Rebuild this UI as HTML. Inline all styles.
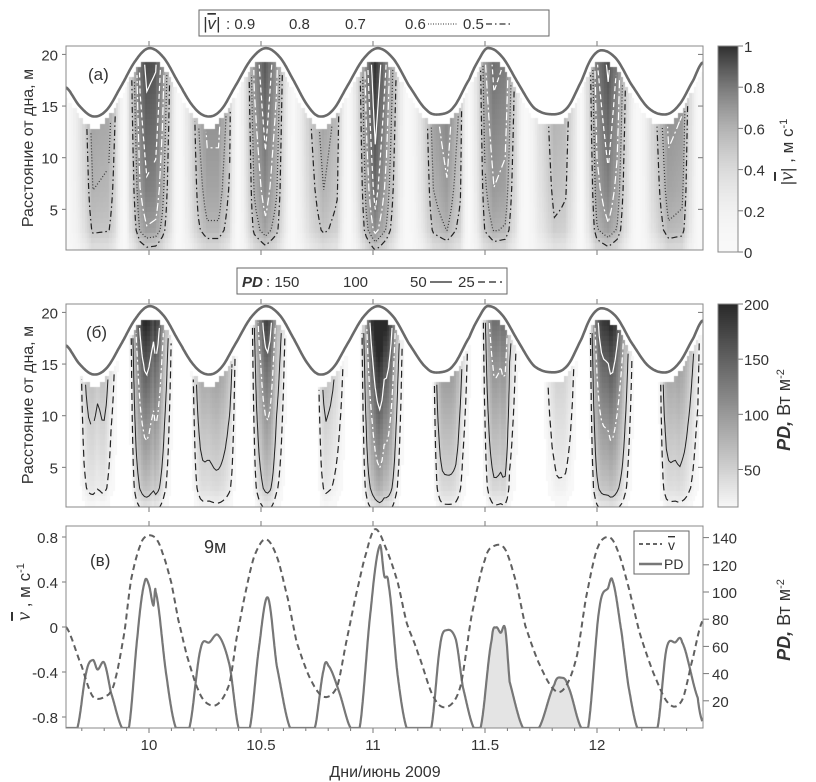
<!DOCTYPE html>
<html><head><meta charset="utf-8"><style>
html,body{margin:0;padding:0;background:#fff;}
#wrap{position:relative;width:816px;height:782px;overflow:hidden;font-family:"Liberation Sans Narrow","Liberation Sans",sans-serif;}
canvas{position:absolute;}
svg{position:absolute;left:0;top:0;}
text{font-family:"Liberation Sans Narrow","Liberation Sans",sans-serif;fill:#333;}
</style></head><body>
<div id="wrap">
<canvas id="cva" width="637" height="204" style="left:66px;top:46px"></canvas>
<canvas id="cvb" width="637" height="203" style="left:66px;top:304px"></canvas>
<canvas id="cba" width="20" height="206" style="left:718px;top:46px"></canvas>
<canvas id="cbb" width="20" height="203" style="left:718px;top:304px"></canvas>
<svg id="svg" width="816" height="782" xmlns="http://www.w3.org/2000/svg">
<defs>
<clipPath id="clipA"><rect x="66" y="46" width="637" height="204"/></clipPath>
<clipPath id="clipB"><rect x="66" y="304" width="637" height="203"/></clipPath>
<clipPath id="clipC"><rect x="66" y="526" width="637" height="202"/></clipPath>
</defs>
<g id="gA" clip-path="url(#clipA)"></g>
<g id="gB" clip-path="url(#clipB)"></g>
<g id="gC" clip-path="url(#clipC)"></g>
<g id="axes"></g>
<rect x="66" y="46" width="637" height="204" fill="none" stroke="#888"/>
<rect x="66" y="304" width="637" height="203" fill="none" stroke="#888"/>
<rect x="66" y="526" width="637" height="202" fill="none" stroke="#888"/>
<rect x="718" y="46" width="20" height="206" fill="none" stroke="#888"/>
<rect x="718" y="304" width="20" height="203" fill="none" stroke="#888"/>
<text x="88" y="80" font-size="17">(a)</text>
<text x="86" y="338" font-size="17">(б)</text>
<text x="90" y="566" font-size="17">(в)</text>
<text x="204" y="553" font-size="18">9м</text>
<text transform="translate(33,148) rotate(-90)" text-anchor="middle" font-size="16" font-family="Liberation Sans">Расстояние от дна, м</text>
<text transform="translate(33,405) rotate(-90)" text-anchor="middle" font-size="16" font-family="Liberation Sans">Расстояние от дна, м</text>
<text transform="translate(30,592) rotate(-90)" text-anchor="middle" font-size="17" font-family="Liberation Sans"><tspan font-style="italic" font-family="Liberation Serif" text-decoration="overline" font-size="20">v</tspan> , м с<tspan dy="-6" font-size="11">-1</tspan></text>
<text transform="translate(793,152) rotate(-90)" text-anchor="middle" font-size="17" font-family="Liberation Sans">|<tspan font-style="italic" font-family="Liberation Serif" text-decoration="overline" font-size="20">v</tspan>| , м с<tspan dy="-6" font-size="11">-1</tspan></text>
<text transform="translate(790,410) rotate(-90)" text-anchor="middle" font-size="18" font-family="Liberation Sans"><tspan font-weight="bold" font-style="italic">PD,</tspan> Вт м<tspan dy="-6" font-size="11">-2</tspan></text>
<text transform="translate(790,620) rotate(-90)" text-anchor="middle" font-size="18" font-family="Liberation Sans"><tspan font-weight="bold" font-style="italic">PD,</tspan> Вт м<tspan dy="-6" font-size="11">-2</tspan></text>
<text x="385" y="777" text-anchor="middle" font-size="16">Дни/июнь 2009</text>
<g>
<rect x="199" y="10" width="350" height="26" fill="#fff" stroke="#666"/>
<text x="203" y="29" font-size="17" font-family="Liberation Serif" font-style="italic">|<tspan text-decoration="overline">v</tspan>|</text>
<text x="226" y="29" font-size="15">: 0.9</text>
<line x1="256" y1="24" x2="282" y2="24" stroke="#fff" stroke-width="1.5"/>
<text x="289" y="29" font-size="15">0.8</text>
<text x="345" y="29" font-size="15">0.7</text>
<text x="405" y="29" font-size="15">0.6</text>
<line x1="428" y1="24" x2="458" y2="24" stroke="#333" stroke-dasharray="1,1.5"/>
<text x="463" y="29" font-size="15">0.5</text>
<line x1="486" y1="24" x2="512" y2="24" stroke="#333" stroke-width="1.3" stroke-dasharray="6,3,1.5,3"/>
</g>
<g>
<rect x="237" y="268" width="270" height="26" fill="#fff" stroke="#666"/>
<text x="242" y="287" font-size="15" font-weight="bold" font-style="italic" font-family="Liberation Sans">PD</text>
<text x="266" y="287" font-size="15">: 150</text>
<text x="343" y="287" font-size="15">100</text>
<text x="410" y="287" font-size="15">50</text>
<line x1="430" y1="282" x2="452" y2="282" stroke="#222" stroke-width="1.2"/>
<text x="458" y="287" font-size="15">25</text>
<line x1="478" y1="282" x2="502" y2="282" stroke="#222" stroke-width="1.2" stroke-dasharray="7,4"/>
</g>
<g>
<rect x="634" y="531" width="55" height="43" fill="#fff" stroke="#666"/>
<line x1="639" y1="544" x2="662" y2="544" stroke="#666" stroke-width="2" stroke-dasharray="4,3"/>
<text x="668" y="550" font-size="14" font-family="Liberation Sans" text-decoration="overline">v</text>
<line x1="639" y1="564" x2="662" y2="564" stroke="#777" stroke-width="2.5"/>
<text x="664" y="569" font-size="14">PD</text>
</g>
</svg>
</div>
<script>
// ---- data ----
const surfDays = [9.63,9.69,9.75,9.81,9.875,9.94,10.0,10.065,10.13,10.20,10.26,10.32,10.39,10.455,10.52,10.585,10.65,10.71,10.76,10.82,10.89,10.955,11.02,11.09,11.16,11.24,11.30,11.36,11.43,11.47,11.51,11.575,11.645,11.72,11.81,11.87,11.93,11.975,12.02,12.085,12.15,12.23,12.31,12.37,12.43,12.47];
const surfH = [16.8,15.0,14.0,14.6,16.9,19.4,20.6,19.7,17.3,14.9,14.0,14.6,17.1,19.5,20.6,19.7,17.3,15.0,14.0,14.6,17.1,19.5,20.6,19.6,17.0,14.6,14.2,14.9,17.6,19.4,20.6,19.8,17.3,14.8,14.2,14.9,17.4,19.6,20.4,19.6,17.2,14.8,14.2,15.2,17.5,19.2];
const vDays = [9.63,9.70,9.75,9.82,9.85,9.89,9.92,9.96,9.99,10.03,10.06,10.10,10.13,10.17,10.22,10.26,10.31,10.36,10.39,10.43,10.47,10.52,10.57,10.62,10.66,10.72,10.78,10.84,10.88,10.92,10.97,11.01,11.06,11.11,11.15,11.20,11.27,11.33,11.39,11.44,11.50,11.54,11.59,11.64,11.68,11.74,11.81,11.86,11.91,11.95,12.0,12.05,12.09,12.14,12.19,12.25,12.32,12.38,12.43,12.47];
const vVals = [0,-0.35,-0.62,-0.6,-0.46,-0.05,0.42,0.72,0.81,0.79,0.66,0.39,0.07,-0.26,-0.56,-0.68,-0.68,-0.5,-0.11,0.3,0.63,0.78,0.63,0.25,-0.14,-0.46,-0.62,-0.53,-0.14,0.25,0.66,0.87,0.69,0.4,0.04,-0.23,-0.62,-0.71,-0.53,0.1,0.6,0.72,0.69,0.39,0.01,-0.32,-0.56,-0.53,-0.26,0.25,0.69,0.8,0.69,0.36,-0.05,-0.4,-0.68,-0.65,-0.26,0.05];
const pdDays = [9.63,9.68,9.72,9.75,9.77,9.80,9.83,9.88,9.91,9.95,9.98,10.0,10.02,10.03,10.08,10.12,10.18,10.23,10.27,10.31,10.36,10.40,10.45,10.49,10.53,10.57,10.63,10.74,10.78,10.80,10.85,10.90,10.94,10.99,11.03,11.05,11.07,11.11,11.15,11.26,11.30,11.33,11.37,11.40,11.45,11.48,11.53,11.55,11.57,11.59,11.61,11.67,11.74,11.81,11.84,11.87,11.93,11.96,12.01,12.05,12.07,12.11,12.14,12.18,12.27,12.31,12.35,12.38,12.45,12.47];
const pdVals = [0,0,41,50,43,48,26,0,0,70,107,105,90,100,36,0,0,58,63,68,46,0,0,58,96,46,0,0,43,46,26,0,0,87,134,112,105,39,0,0,61,72,65,31,0,0,65,74,70,73,34,0,0,32,37,31,0,0,87,103,108,70,31,0,0,58,63,63,22,5];
const profZ = [0.5,3,5,7,9,11,13,15,17,19,21];
const velProf = [0.5,0.85,0.92,0.97,1.0,1.03,1.06,1.09,1.12,1.15,1.17];
const pdProf = [0.2,0.6,0.75,0.88,1.0,1.15,1.3,1.45,1.65,1.85,1.95];
const shadedRanges = [[11.46,11.68],[11.74,11.93]];
const xTicks = [10,10.5,11,11.5,12];
const xTickLabels = ["10","10.5","11","11.5","12"];
const zTicks = [5,10,15,20];
const vTicks = [-0.8,-0.4,0,0.4,0.8];
const vTickLabels = ["-0.8","-0.4","0","0.4","0.8"];
const pdTicks = [20,40,60,80,100,120,140];
const cbaTicks = [0,0.2,0.4,0.6,0.8,1];
const cbaLabels = ["0","0.2","0.4","0.6","0.8","1"];
const cbbTicks = [50,100,150,200];
const levelsA = [0.9,0.8,0.7,0.6,0.5];
const levelsB = [150,100,50,25];

// ---- scales ----
const X = d => 149 + (d-10)*224;
const ZA = z => 261 - z*10.33;
const ZB = z => 519 - z*10.33;
const YV = v => 627 - v*112.5;
const YP = p => 728 - p*1.36;
const NS = 'http://www.w3.org/2000/svg';
function interp(xs, ys, x){
  const n=Math.min(xs.length,ys.length);
  if (x<=xs[0]) return ys[0];
  if (x>=xs[n-1]) return ys[n-1];
  for(let i=0;i<n-1;i++){ if(x<=xs[i+1]){const f=(x-xs[i])/(xs[i+1]-xs[i]); return ys[i]+f*(ys[i+1]-ys[i]);} }
  return ys[n-1];
}
function catmull(xs, ys, t){
  const n=Math.min(xs.length,ys.length);
  if(t<=xs[0]) return ys[0]; if(t>=xs[n-1]) return ys[n-1];
  let i=0; while(i<n-2 && t>xs[i+1]) i++;
  const p0=ys[Math.max(i-1,0)],p1=ys[i],p2=ys[i+1],p3=ys[Math.min(i+2,n-1)];
  const u=Math.max(0,Math.min(1,(t-xs[i])/(xs[i+1]-xs[i])));
  return 0.5*((2*p1)+(-p0+p2)*u+(2*p0-5*p1+4*p2-p3)*u*u+(-p0+3*p1-3*p2+p3)*u*u*u);
}
const smoothSurf = t => catmull(surfDays, surfH, t);
function el(tag, attrs, parent){const e=document.createElementNS(NS,tag); for(const k in attrs) e.setAttribute(k,attrs[k]); parent.appendChild(e); return e;}

// ---- grids ----
const t0=9.60, dt=0.01, nT=291, z0=1.0, dz=0.5, nZ=40;
const gridT=[], gridZ=[];
for(let i=0;i<nT;i++) gridT.push(t0+i*dt);
for(let j=0;j<nZ;j++) gridZ.push(z0+j*dz);
const GA=[], GB=[];
for(let i=0;i<nT;i++){
  const t=gridT[i], top=Math.min(19.0, Math.floor((smoothSurf(t)-1.1)*2)/2);
  const av=Math.abs(interp(vDays,vVals,t)), pd=Math.max(0,catmull(pdDays,pdVals,t));
  const ca=[], cb=[];
  for(let j=0;j<nZ;j++){
    const z=gridZ[j];
    if(z>top){ca.push(NaN);cb.push(NaN);continue;}
    ca.push(av*interp(profZ,velProf,z));
    cb.push(pd*interp(profZ,pdProf,z));
  }
  GA.push(ca); GB.push(cb);
}
function grayA(v){const f=Math.max(0,Math.min(1,v)); const L=Math.round(248-200*Math.pow(f,2.1)); return `rgb(${L},${L},${L})`;}
function grayB(p){const f=Math.max(0,Math.min(1,(p-16)/184)); const L=Math.round(248-206*f); return `rgb(${L},${L},${L})`;}
function paint(cv, G, colorFn, ZF, top, minVal){
  const ctx=cv.getContext('2d');
  ctx.fillStyle='#fff'; ctx.fillRect(0,0,cv.width,cv.height);
  for(let i=0;i<nT;i++) for(let j=0;j<nZ;j++){
    const v=G[i][j]; if(isNaN(v)||v<minVal) continue;
    const x1=Math.floor(X(gridT[i]-dt/2))-66, x2=Math.ceil(X(gridT[i]+dt/2))-66;
    const y1=Math.floor(ZF(gridZ[j]+dz/2))-top, y2=Math.ceil(ZF(gridZ[j]-dz/2))-top;
    ctx.fillStyle=colorFn(v); ctx.fillRect(x1,y1,x2-x1,y2-y1);
  }
}
paint(document.getElementById('cva'),GA,grayA,ZA,46,-1);
paint(document.getElementById('cvb'),GB,grayB,ZB,304,12);
(function(){
  const a=document.getElementById('cba').getContext('2d');
  for(let y=0;y<206;y++){a.fillStyle=grayA(1-y/206);a.fillRect(0,y,20,1);}
  const b=document.getElementById('cbb').getContext('2d');
  for(let y=0;y<203;y++){b.fillStyle=grayB(200-y*184/203);b.fillRect(0,y,20,1);}
})();

// ---- contours (marching squares) ----
function contour(G, level){
  const segs=[];
  const pt=(i1,j1,i2,j2)=>{const a=G[i1][j1],b=G[i2][j2]; const f=(level-a)/(b-a); return [gridT[i1]+f*(gridT[i2]-gridT[i1]), gridZ[j1]+f*(gridZ[j2]-gridZ[j1])];};
  for(let i=0;i<nT-1;i++) for(let j=0;j<nZ-1;j++){
    const v00=G[i][j],v10=G[i+1][j],v01=G[i][j+1],v11=G[i+1][j+1];
    if(isNaN(v00)||isNaN(v10)||isNaN(v01)||isNaN(v11)) continue;
    const ps=[];
    if((v00-level)*(v10-level)<0) ps.push(pt(i,j,i+1,j));
    if((v10-level)*(v11-level)<0) ps.push(pt(i+1,j,i+1,j+1));
    if((v01-level)*(v11-level)<0) ps.push(pt(i,j+1,i+1,j+1));
    if((v00-level)*(v01-level)<0) ps.push(pt(i,j,i,j+1));
    if(ps.length>=2) segs.push([ps[0],ps[1]]);
    if(ps.length===4) segs.push([ps[2],ps[3]]);
  }
  const key=p=>p[0].toFixed(5)+','+p[1].toFixed(5);
  const map={}; segs.forEach((s,k)=>{[0,1].forEach(e=>{const kk=key(s[e]);(map[kk]=map[kk]||[]).push(k);});});
  const used=new Array(segs.length).fill(false), lines=[];
  for(let k=0;k<segs.length;k++){
    if(used[k]) continue; used[k]=true;
    let line=[segs[k][0],segs[k][1]];
    for(const dir of [1,0]){
      let cur = dir? line[line.length-1] : line[0];
      while(true){
        const c=(map[key(cur)]||[]).find(m=>!used[m]); if(c===undefined) break;
        used[c]=true; const s=segs[c]; const nxt = key(s[0])===key(cur)? s[1]: s[0];
        if(dir) line.push(nxt); else line.unshift(nxt); cur=nxt;
      }
    }
    lines.push(line);
  }
  return lines;
}
const stylesA = [{s:'#fff',w:1.2,d:''},{s:'#fff',w:1.2,d:'5,3'},{s:'#fff',w:1.2,d:'8,3,2,3'},{s:'#333',w:1.2,d:'1,2'},{s:'#222',w:1.2,d:'6,3,1.5,3'}];
const stylesB = [{s:'#fff',w:1.2,d:''},{s:'#fff',w:1.2,d:'6,3,2,3'},{s:'#222',w:1,d:''},{s:'#222',w:1.2,d:'7,4'}];
function drawContours(G, levels, styles, ZF, g, name){
  levels.forEach((lv,k)=>{
    contour(G,lv).forEach(line=>{
      const p=el('path',{d:'M'+line.map(q=>X(q[0]).toFixed(1)+','+ZF(q[1]).toFixed(1)).join('L'),fill:'none',stroke:styles[k].s,'stroke-width':styles[k].w,'stroke-dasharray':styles[k].d},g);
      
      
    });
  });
}
const gA=document.getElementById('gA'), gB=document.getElementById('gB'), gC=document.getElementById('gC'), axes=document.getElementById('axes');
drawContours(GA,levelsA,stylesA,ZA,gA,'velocity');
drawContours(GB,levelsB,stylesB,ZB,gB,'pd');

// surface lines
[[gA,ZA],[gB,ZB]].forEach(([g,ZF])=>{
  let d=''; for(let t=9.60;t<=12.50;t+=0.004){d+=(d?'L':'M')+X(t).toFixed(1)+','+ZF(smoothSurf(t)).toFixed(1);}
  const p=el('path',{d:d,fill:'none',stroke:'#6a6a6a','stroke-width':2.6},g);
  
  
});

// panel c
function smoothPath(xs, ys, yf, clampZero){
  let d=''; const n=Math.min(xs.length,ys.length);
  for(let t=xs[0];t<=xs[n-1]+1e-9;t+=0.002){ let v=catmull(xs,ys,t); if(clampZero) v=Math.max(0,v); d+=(d?'L':'M')+X(t).toFixed(1)+','+yf(v).toFixed(1);}
  return d;
}
shadedRanges.forEach(r=>{
  let d='M'+X(r[0])+','+YP(0);
  for(let t=r[0];t<=r[1]+1e-9;t+=0.002) d+='L'+X(t).toFixed(1)+','+YP(Math.max(0,catmull(pdDays,pdVals,t))).toFixed(1);
  d+='L'+X(r[1])+','+YP(0)+'Z';
  const p=el('path',{d:d,fill:'#e4e4e4',stroke:'none'},gC);
  
  
});
(function(){
  const p=el('path',{d:smoothPath(pdDays,pdVals,YP,true),fill:'none',stroke:'#777','stroke-width':2.2,'stroke-linejoin':'round'},gC);
  
  
  const q=el('path',{d:smoothPath(vDays,vVals,YV,false),fill:'none',stroke:'#606060','stroke-width':2,'stroke-dasharray':'6,4','stroke-linejoin':'round'},gC);
  
  
})();

// ---- axes ----
function tick(x1,y1,x2,y2){const l=el('line',{x1:x1,y1:y1,x2:x2,y2:y2,stroke:'#777','stroke-width':1},axes);
  
  }
function label(x,y,s,anchor,nm){const t=el('text',{x:x,y:y,'font-size':15,'text-anchor':anchor},axes); t.textContent=s;
  
  }
xTicks.forEach((d,k)=>{
  [[46,250],[304,507],[526,728]].forEach(([tp,bt])=>{tick(X(d),tp,X(d),tp-5);tick(X(d),bt,X(d),bt+5);});
  label(X(d),750,xTickLabels[k],'middle','x-tick-label');
});
for(let d=9.7;d<12.45;d+=0.1){ tick(X(d),728,X(d),731); }
zTicks.forEach(z=>{
  tick(66,ZA(z),62,ZA(z)); tick(703,ZA(z),698,ZA(z)); label(58,ZA(z)+6,String(z),'end','y-tick-label-a');
  tick(66,ZB(z),62,ZB(z)); tick(703,ZB(z),698,ZB(z)); label(58,ZB(z)+6,String(z),'end','y-tick-label-b');
});
vTicks.forEach((v,k)=>{tick(66,YV(v),62,YV(v)); label(58,YV(v)+6,vTickLabels[k],'end','y-tick-label-c');});
pdTicks.forEach(p=>{tick(703,YP(p),709,YP(p)); label(712,YP(p)+6,String(p),'start','y-right-tick-label-c');});
cbaTicks.forEach((v,k)=>{const y=252-v*206; tick(738,y,743,y); label(744,y+6,cbaLabels[k],'start','colorbar-a-tick');});
cbbTicks.forEach(p=>{const y=507-(p-16)*203/184; tick(738,y,743,y); label(744,y+6,String(p),'start','colorbar-b-tick');});
</script>
</body></html>
